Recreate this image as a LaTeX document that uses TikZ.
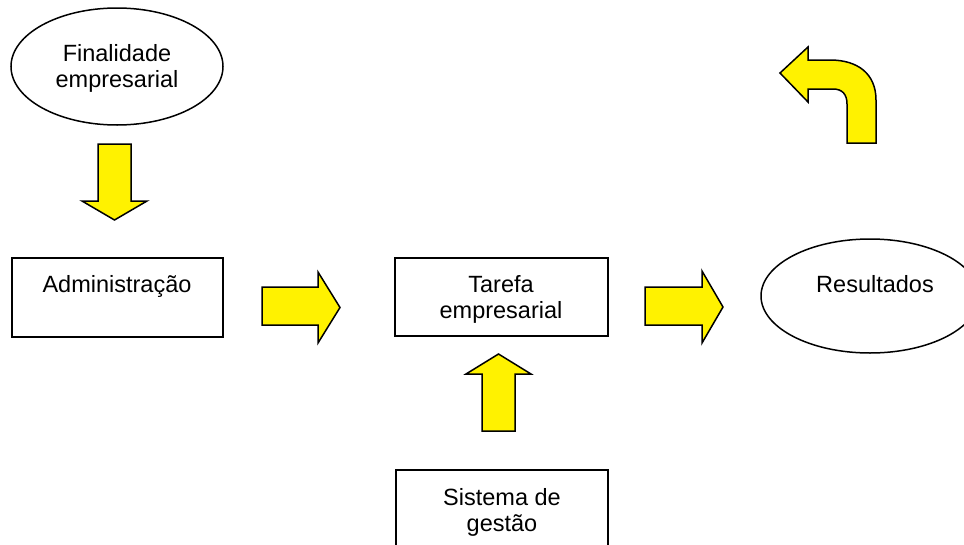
\documentclass[tikz,border=0pt]{standalone}
\usepackage{fontspec}
\setmainfont{Liberation Sans}
\usetikzlibrary{shapes.geometric}
\begin{document}
\begin{tikzpicture}[x=1pt,y=-1pt,
  shapeline/.style={draw=black,line width=1.5pt},
  boxshape/.style={shapeline,rectangle,inner sep=0pt},
  ovalshape/.style={shapeline,ellipse,inner sep=0pt},
  lbl/.style={font=\fontsize{23.5}{26}\selectfont,align=center,inner sep=0pt,anchor=base},
  blockarrow/.style={draw=black,line width=1.5pt,fill=yellow,line join=miter}]
\useasboundingbox (0,0) rectangle (964,544);
\clip (0,0) rectangle (964,544);
\fill[white] (0,0) rectangle (964,544);
% shapes
\node[ovalshape,minimum width=212pt,minimum height=117pt] (fin) at (117,66.5) {};
\node[ovalshape,minimum width=218pt,minimum height=114pt] (res) at (870,296) {};
\node[boxshape,minimum width=211pt,minimum height=79pt] (adm) at (117.5,297.5) {};
\node[boxshape,minimum width=213pt,minimum height=78pt] (tar) at (501.5,297) {};
\node[boxshape,minimum width=212pt,minimum height=90pt] (sis) at (502,515) {};
% texts (base = baseline of last line)
\node[lbl] (tfin) at (117,87) {Finalidade\\empresarial};
\node[lbl] (tadm) at (117,292) {Administração};
\node[lbl] (ttar) at (501,318) {Tarefa\\empresarial};
\node[lbl] (tres) at (875,292) {Resultados};
\node[lbl] (tsis) at (502,531) {Sistema de\\gestão};
% block arrows
\draw[blockarrow] (98,144) -- (131,144) -- (131,201) -- (147,201) -- (114.5,220) -- (82,201) -- (98,201) -- cycle;
\draw[blockarrow] (262,287) -- (318,287) -- (318,272) -- (340,307.5) -- (318,343) -- (318,325) -- (262,325) -- cycle;
\draw[blockarrow] (645,287) -- (702,287) -- (702,271) -- (723,307) -- (702,343) -- (702,325) -- (645,325) -- cycle;
\draw[blockarrow] (482,431) -- (482,374) -- (466,374) -- (498.5,354) -- (531,374) -- (515,374) -- (515,431) -- cycle;
\draw[blockarrow] (876,143) -- (876,100) .. controls (876,74) and (858,60) .. (830,60) -- (808,60) -- (808,47) -- (780,73) -- (808,102) -- (808,89) -- (833,89) .. controls (842,89) and (847,94) .. (847,104) -- (847,143) -- cycle;
\end{tikzpicture}
\end{document}
